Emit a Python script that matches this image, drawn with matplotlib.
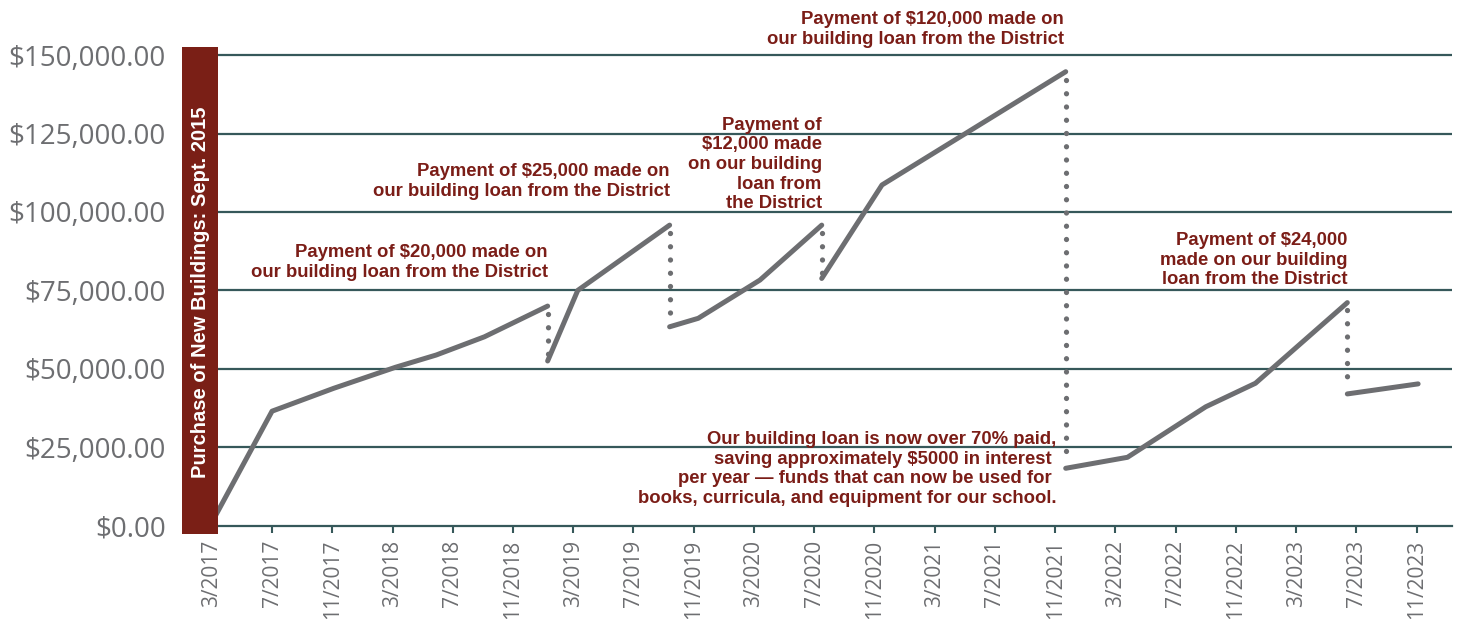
import matplotlib
matplotlib.use("Agg")
import matplotlib.pyplot as plt
from matplotlib.patches import Rectangle
from matplotlib.ticker import FuncFormatter

# Data (months counted from 3/2017, balance in dollars)
# a repeated month means a payment: the balance drops straight down
MONTHS = [0, 4, 8.1, 12.2, 14.9, 18.1, 22.3, 22.3, 24.3, 30.4, 30.4, 32.3, 36.4,
          40.5, 40.5, 44.5, 56.7, 56.7, 60.8, 66, 69.3, 75.4, 75.4, 80.1]
BALANCE = [1000, 36500, 43800, 50500, 54400, 60200, 70000, 52500, 75000, 95800, 63400, 66100, 78300,
           95800, 78800, 108600, 144700, 18300, 21800, 37900, 45400, 71100, 42000, 45200]

TICK_LABELS = ["3/2017", "7/2017", "11/2017", "3/2018", "7/2018", "11/2018", "3/2019",
               "7/2019", "11/2019", "3/2020", "7/2020", "11/2020", "3/2021", "7/2021",
               "11/2021", "3/2022", "7/2022", "11/2022", "3/2023", "7/2023", "11/2023"]
Y_TICKS = [0, 25000, 50000, 75000, 100000, 125000, 150000]

# Notes: (text, month of right edge, balance of top edge)
NOTES = [
    ("Payment of $20,000 made on\nour building loan from the District", 22.3, 89800),
    ("Payment of $25,000 made on\nour building loan from the District", 30.4, 115600),
    ("Payment of\n$12,000 made\non our building\nloan from\nthe District", 40.5, 130300),
    ("Payment of $120,000 made on\nour building loan from the District", 56.6, 164000),
    ("Payment of $24,000\nmade on our building\nloan from the District", 75.4, 93600),
    ("Our building loan is now over 70% paid,\nsaving approximately $5000 in interest \n"
     "per year \u2014 funds that can now be used for \nbooks, curricula, and equipment for our school.",
     56.1, 30200),
]

SIDE_LABEL = "Purchase of New Buildings: Sept. 2015"

LINE_COLOR = "#6d6e71"
GRID_COLOR = "#36585a"
NOTE_COLOR = "#7b1d17"
BAR_COLOR = "#7a1f16"
W, H = 1457, 619


def split_segments(months, balance):
    """Split the series into solid runs and vertical payment drops."""
    runs, drops = [], []
    current = [(months[0], balance[0])]
    for i in range(1, len(months)):
        if months[i] == months[i - 1]:
            runs.append(current)
            drops.append((months[i], balance[i - 1], balance[i]))
            current = [(months[i], balance[i])]
        else:
            current.append((months[i], balance[i]))
    runs.append(current)
    return runs, drops


def main():
    fig = plt.figure(figsize=(W / 100, H / 100), dpi=100)
    ax = fig.add_axes([206 / W, 93.3 / H, (1452 - 206) / W, (570.2 - 93.3) / H])
    ax.set_xlim(-0.385, 82.35)
    ax.set_ylim(0, 152000)

    # horizontal grid
    for y in Y_TICKS[1:]:
        ax.axhline(y, color=GRID_COLOR, lw=1.6, zorder=1)

    runs, drops = split_segments(MONTHS, BALANCE)
    for run in runs:
        xs = [p[0] for p in run]
        ys = [p[1] for p in run]
        ax.plot(xs, ys, color=LINE_COLOR, lw=3.6, solid_capstyle="round",
                solid_joinstyle="round", zorder=3, clip_on=False)
    for m, top, bottom in drops:
        ax.plot([m, m], [top - 2500, bottom + 1500], color=LINE_COLOR, lw=3.8,
                linestyle=(0, (0.01, 2.5)), dash_capstyle="round", zorder=3)

    # axes styling
    for side in ["top", "right", "left"]:
        ax.spines[side].set_visible(False)
    ax.spines["bottom"].set_color(GRID_COLOR)
    ax.spines["bottom"].set_linewidth(1.6)

    ax.set_xticks([4 * i for i in range(len(TICK_LABELS))])
    ax.set_xticklabels(TICK_LABELS, rotation=90, fontsize=15, color=LINE_COLOR,
                       family="Open Sans")
    ax.tick_params(axis="x", length=5, width=1.5, color=GRID_COLOR, pad=5)

    ax.set_yticks(Y_TICKS)
    ax.yaxis.set_major_formatter(FuncFormatter(lambda v, p: f"${v:,.2f}"))
    ax.tick_params(axis="y", length=0, pad=29, labelsize=20, labelcolor=LINE_COLOR)
    for lbl in ax.get_yticklabels():
        lbl.set_family("Open Sans")

    # annotations
    for text, m, y in NOTES:
        ax.text(m, y, text, ha="right", va="top", multialignment="right",
                color=NOTE_COLOR, fontsize=13.3, fontweight="bold",
                family="Liberation Sans", linespacing=1.2, clip_on=False)

    # red side bar
    bar = Rectangle((182 / W, (H - 534) / H), 36 / W, 487 / H, transform=fig.transFigure,
                    facecolor=BAR_COLOR, edgecolor="none", zorder=5)
    fig.add_artist(bar)
    fig.text(200 / W, (H - 292) / H, SIDE_LABEL, rotation=90, ha="center", va="center",
             color="white", fontsize=14.5, fontweight="bold", family="Liberation Sans",
             zorder=6)

    fig.savefig("out.png", dpi=100, facecolor="white")


if __name__ == "__main__":
    main()
